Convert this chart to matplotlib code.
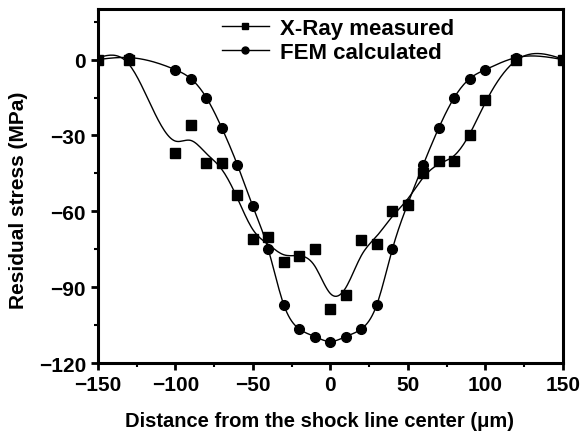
import numpy as np
import matplotlib.pyplot as plt
from matplotlib.ticker import MultipleLocator

# distance from shock line center (um) and residual stress (MPa)
xray_x = [-150, -130, -100, -90, -80, -70, -60, -50, -40, -30, -20, -10, 0,
          10, 20, 30, 40, 50, 60, 70, 80, 90, 100, 120, 150]
xray_y = [0, 0, -37, -26, -41, -41, -53.5, -71, -70, -80, -77.5, -75, -98.5,
          -93, -71.5, -73, -60, -57.5, -45, -40, -40, -30, -16, 0, 0]

fem_x = [-150, -130, -100, -90, -80, -70, -60, -50, -40, -30, -20, -10, 0,
         10, 20, 30, 40, 50, 60, 70, 80, 90, 100, 120, 150]
fem_y = [0, 0.8, -4, -7.5, -15, -27, -41.5, -58, -75, -97, -106.5, -109.5, -111.5,
         -109.5, -106.5, -97, -75, -57, -41.5, -27, -15, -7.5, -4, 0.8, 0]


def smooth_curve(x, y, lam, order=2):
    # Whittaker smoother on a 1 um grid, data only at the measured points
    x = np.asarray(x, float)
    y = np.asarray(y, float)
    grid = np.arange(x.min(), x.max() + 1, 1.0)
    w = np.zeros_like(grid)
    z = np.zeros_like(grid)
    idx = np.searchsorted(grid, x)
    w[idx] = 1.0
    z[idx] = y
    d = np.diff(np.eye(len(grid)), n=order, axis=0)
    a = np.diag(w) + lam * d.T @ d
    return grid, np.linalg.solve(a, w * z)


plt.rcParams["font.family"] = ["Liberation Sans", "DejaVu Sans"]
plt.rcParams["font.weight"] = "bold"

fig = plt.figure(figsize=(5.82, 4.35), dpi=100)
ax = fig.add_axes([0.168, 0.163, 0.799, 0.814])

gx, gy = smooth_curve(xray_x, xray_y, 150)
ax.plot(gx, gy, color="black", linewidth=1.0)
ax.plot(xray_x, xray_y, "s", color="black", markersize=6.5)

gx, gy = smooth_curve(fem_x, fem_y, 1)
ax.plot(gx, gy, color="black", linewidth=1.0)
ax.plot(fem_x, fem_y, "o", color="black", markersize=7)

# legend handles
ax.plot([], [], "-s", color="black", markersize=4.5, linewidth=1.0, label="X-Ray measured")
ax.plot([], [], "-o", color="black", markersize=5, linewidth=1.0, label="FEM calculated")
ax.legend(loc="upper left", bbox_to_anchor=(0.267, 0.975), frameon=False,
          borderpad=0, borderaxespad=0, handlelength=2.1, handletextpad=0.5,
          labelspacing=0.15, prop={"size": 16, "weight": "bold"})

ax.set_xlim(-150, 150)
ax.set_ylim(-120, 20)
ax.xaxis.set_major_locator(MultipleLocator(50))
ax.xaxis.set_minor_locator(MultipleLocator(25))
ax.yaxis.set_major_locator(MultipleLocator(30))
ax.yaxis.set_minor_locator(MultipleLocator(15))
ax.tick_params(which="major", length=5, width=2, labelsize=15)
ax.tick_params(which="minor", length=3, width=1.5)
for s in ax.spines.values():
    s.set_linewidth(2.2)

ax.set_xlabel("Distance from the shock line center (\u03bcm)", fontsize=14.5,
              fontweight="bold")
ax.xaxis.set_label_coords(0.477, -0.135)
ax.set_ylabel("Residual stress (MPa)", fontsize=15, fontweight="bold")
ax.yaxis.set_label_coords(-0.15, 0.463)

fig.savefig("out.png", dpi=100)
